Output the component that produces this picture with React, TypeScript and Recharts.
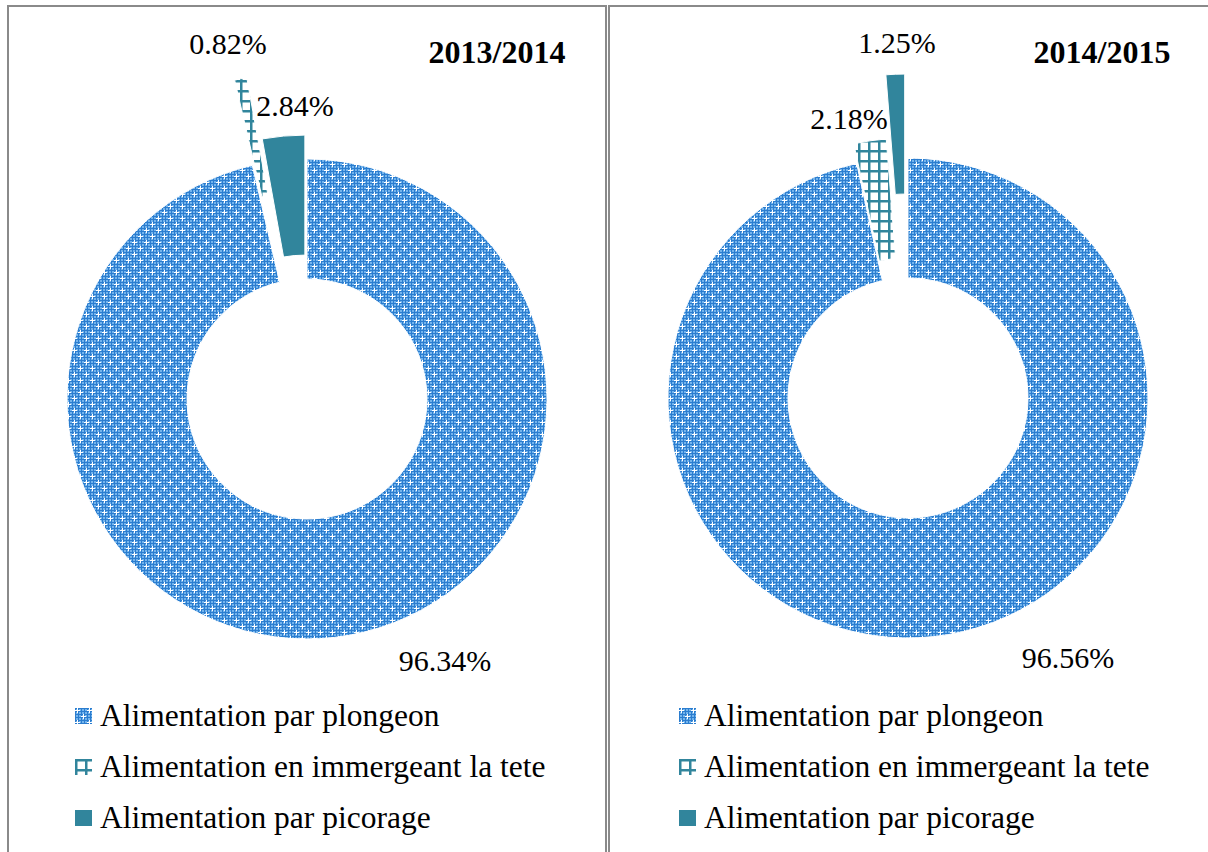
import React from "react";
import { PieChart, Pie, Cell, Sector, Legend } from "recharts";

const categories = [
  "Alimentation par plongeon",
  "Alimentation en immergeant la tete",
  "Alimentation par picorage",
];
const values2013 = [96.34, 0.82, 2.84];
const values2014 = [96.56, 2.18, 1.25];
const seasons = ["2013/2014", "2014/2015"];

const fills = ["url(#plongeon)", "url(#immergeant)", "#31859c"];
const FONT = '"Liberation Serif", "Times New Roman", serif';

// layout: panel offset, pie centre, explosion per slice, label offsets from centre
const panels = [
  {
    values: values2013,
    title: seasons[0],
    left: 0,
    cx: 307,
    cy: 399,
    explode: [0, 87, 24],
    labels: [[138, 261], [-79, -356], [-12, -294]],
    titleX: 497,
    legendLeft: 75,
  },
  {
    values: values2014,
    title: seasons[1],
    left: 608,
    cx: 300,
    cy: 398,
    explode: [0, 20, 84],
    labels: [[160, 259], [-59, -280], [-11, -356]],
    titleX: 494,
    legendLeft: 71,
  },
];

const RAD = Math.PI / 180;

function Patterns() {
  return (
    <defs>
      <pattern id="chk" width="3" height="3" patternUnits="userSpaceOnUse">
        <rect width="3" height="3" fill="#2b7dcf" />
        <rect x="1" y="1" width="2" height="2" fill="#74b4ec" />
      </pattern>
      <pattern id="plongeon" width="12" height="12" patternUnits="userSpaceOnUse">
        <rect width="12" height="12" fill="url(#chk)" />
        <rect x="2" y="0" width="1" height="5" fill="#fff" />
        <rect x="0" y="2" width="5" height="1" fill="#fff" />
        <rect x="8" y="6" width="1" height="5" fill="#fff" />
        <rect x="6" y="8" width="5" height="1" fill="#fff" />
      </pattern>
      <pattern id="immergeant" width="10" height="10" patternUnits="userSpaceOnUse">
        <rect width="10" height="10" fill="#fff" />
        <rect x="0" y="0" width="2.5" height="10" fill="#31859c" />
        <rect x="0" y="0" width="10" height="2.5" fill="#31859c" />
      </pattern>
    </defs>
  );
}

function makeShape(explode: number[]) {
  return (props: any) => {
    const idx = categories.indexOf(props.name ?? props.payload?.name);
    const e = explode[idx] ?? 0;
    const dx = e * Math.cos(-props.midAngle * RAD);
    const dy = e * Math.sin(-props.midAngle * RAD);
    return (
      <Sector
        cx={props.cx + dx}
        cy={props.cy + dy}
        innerRadius={props.innerRadius}
        outerRadius={props.outerRadius}
        startAngle={props.startAngle}
        endAngle={props.endAngle}
        fill={props.fill}
        stroke="#fff"
        strokeWidth={1}
      />
    );
  };
}

function makeLabel(offsets: number[][]) {
  return (props: any) => {
    const idx = categories.indexOf(props.name ?? props.payload?.name);
    const [dx, dy] = offsets[idx] ?? [0, 0];
    return (
      <text
        x={props.cx + dx}
        y={props.cy + dy}
        textAnchor="middle"
        dominantBaseline="central"
        className="serif-text"
        style={{ fontFamily: FONT, fontSize: 30 }}
        fill="#000"
      >
        {`${Number(props.value).toFixed(2)}%`}
      </text>
    );
  };
}

function LegendContent() {
  return (
    <div className="serif-text">
      {categories.map((c, i) => (
        <div key={c} style={{ display: "flex", alignItems: "center", height: 51 }}>
          <svg width={17} height={16} style={{ marginRight: 8 }}>
            <rect width={17} height={16} fill={fills[i]} />
          </svg>
          <span className="serif-text" style={{ fontSize: 31.5, lineHeight: "51px", color: "#000", whiteSpace: "nowrap" }}>
            {c}
          </span>
        </div>
      ))}
    </div>
  );
}

export default function App() {
  return (
    <div style={{ position: "absolute", left: 0, top: 0, width: 1208, height: 852, overflow: "hidden", background: "#fff", fontFamily: FONT }}>
      <style>{`.serif-text, .serif-text * { font-family: "Liberation Serif", "Times New Roman", serif !important; }`}</style>
      <div style={{ position: "absolute", left: 7, top: 5, width: 596, height: 900, borderLeft: "2px solid #8a8a8a", borderTop: "2px solid #8a8a8a", borderRight: "2px solid #8a8a8a" }} />
      <div style={{ position: "absolute", left: 608, top: 5, width: 700, height: 900, borderLeft: "2px solid #8a8a8a", borderTop: "2px solid #8a8a8a" }} />
      {panels.map((p, k) => {
        const data = categories.map((name, i) => ({ name, value: p.values[i] }));
        return (
          <div key={k} style={{ position: "absolute", left: p.left, top: 0 }}>
            <PieChart width={600} height={852} margin={{ top: 0, right: 0, bottom: 0, left: 0 }} className="serif-text">
              <Patterns />
              <Pie
                data={data}
                dataKey="value"
                nameKey="name"
                cx={p.cx}
                cy={p.cy}
                innerRadius={120}
                outerRadius={240}
                startAngle={90}
                endAngle={-270}
                stroke="#fff"
                shape={makeShape(p.explode)}
                label={makeLabel(p.labels)}
                labelLine={false}
                isAnimationActive={false}
              >
                {data.map((d, i) => (
                  <Cell key={d.name} fill={fills[i]} />
                ))}
              </Pie>
              <Legend
                layout="vertical"
                align="center"
                verticalAlign="middle"
                itemSorter={null}
                content={<LegendContent />}
                wrapperStyle={{ left: p.legendLeft, top: 690, width: 520 }}
              />
            </PieChart>
            <div
              className="serif-text"
              style={{
                position: "absolute",
                left: p.titleX - 100,
                top: 36,
                width: 200,
                textAlign: "center",
                fontWeight: "bold",
                fontSize: 32,
                lineHeight: "32px",
              }}
            >
              {p.title}
            </div>
          </div>
        );
      })}
    </div>
  );
}
